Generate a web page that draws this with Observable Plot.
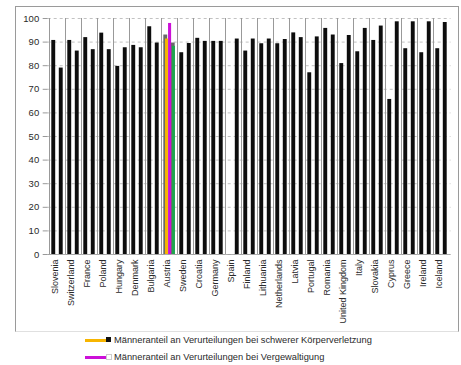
<!DOCTYPE html>
<html>
<head>
<meta charset="utf-8">
<script src="https://cdn.jsdelivr.net/npm/d3@7"></script>
<script src="https://cdn.jsdelivr.net/npm/@observablehq/plot@0.6"></script>
<style>
  html, body { margin: 0; padding: 0; background: #fff; }
  #wrap { position: relative; width: 461px; height: 365px; overflow: hidden; font-family: "Liberation Sans", Arial, sans-serif; }
  #frame { position: absolute; left: 15px; top: 6px; width: 442px; height: 324px; border: 1px solid #9a9a9a; border-bottom-color: #e0e0e0; pointer-events: none; }
  #chart { position: absolute; left: 0; top: 0; }
  .leg { position: absolute; left: 85px; height: 12px; font-size: 9.3px; color: #2a2a2a; white-space: nowrap; }
  .leg .line { position: absolute; left: 0; top: 5px; width: 21px; height: 3px; }
  .leg .sq { position: absolute; left: 21px; top: 3px; width: 5px; height: 5px; }
  .leg .txt { position: absolute; left: 29px; top: 0; line-height: 12px; }
</style>
</head>
<body>
<div id="wrap">
  <div id="chart"></div>
  <div id="frame"></div>
  <div id="legend"></div>
</div>
<script>
const countries = ["Slovenia","Switzerland","France","Poland","Hungary","Denmark","Bulgaria","Austria","Sweden","Croatia","Germany","Spain","Finland","Lithuania","Netherlands","Latvia","Portugal","Romania","United Kingdom","Italy","Slovakia","Cyprus","Greece","Ireland","Iceland"];
const koerperverletzung = [90.7, 90.7, 91.9, 93.8, 79.7, 88.6, 96.5, 93.0, 85.5, 91.6, 90.3, null, 86.2, 89.3, 89.3, 93.9, 77.0, 95.8, 80.9, 85.9, 90.7, 65.7, 87.2, 85.5, 87.2];
const vergewaltigung = [79.0, 86.2, 86.8, 86.8, 87.6, 87.6, 89.6, 89.6, 89.4, 90.3, 90.3, 91.3, 91.3, 91.3, 91.1, 91.9, 92.2, 93.0, 92.8, 95.8, 96.8, 98.6, 98.6, 98.6, 98.3];
const yTicks = [0, 10, 20, 30, 40, 50, 60, 70, 80, 90, 100];
const seriesNames = ["Männeranteil an Verurteilungen bei schwerer Körperverletzung", "Männeranteil an Verurteilungen bei Vergewaltigung"];
// hand-drawn highlight marks over Austria in the scan
const highlightCountry = "Austria";
const highlightYellow = 91.3;
const highlightMagenta = 97.9;
const highlightGreen = 88.2;
const markerColors = ["#f7b500", "#cc10d8", "#1ea64f"];

const rows1 = countries.map((c, i) => ({country: c, value: koerperverletzung[i]})).filter(d => d.value != null);
const rows2 = countries.map((c, i) => ({country: c, value: vergewaltigung[i]})).filter(d => d.value != null);
const barFill = d => d.country === highlightCountry ? "#6a6a6a" : "#0d0d0d";

const chart = Plot.plot({
  width: 461,
  height: 332,
  marginTop: 18,
  marginBottom: 78,
  marginLeft: 47.7,
  marginRight: 10.5,
  style: {fontFamily: "Liberation Sans, Arial, sans-serif", background: "transparent"},
  x: {domain: countries, padding: 0, label: null},
  y: {domain: [0, 100], label: null},
  marks: [
    Plot.gridY(yTicks, {stroke: "#9a9a9a", strokeOpacity: 0.6, strokeDasharray: "3,3"}),
    Plot.axisY(yTicks, {tickSize: 5, tickPadding: 4, fontSize: 9.5, fill: "#2a2a2a", stroke: "#999", label: null}),
    Plot.axisX({tickSize: 0, tickPadding: 5, tickRotate: -90, fontSize: 9, fill: "#2a2a2a", dx: -2, label: null}),
    Plot.ruleY([0], {stroke: "#999", strokeWidth: 0.8}),
    Plot.tickX(countries, {x: d => d, y1: 0, y2: -1.3, stroke: "#999", dx: -8}),
    Plot.barY(rows1, {x: "country", y: "value", fill: barFill, insetLeft: 2.3, insetRight: 9.8}),
    Plot.barY(rows2, {x: "country", y: "value", fill: barFill, insetLeft: 9.8, insetRight: 2.3}),
    Plot.barY([{country: highlightCountry, value: highlightYellow}], {x: "country", y: "value", fill: markerColors[0], insetLeft: 4.05, insetRight: 9.05}),
    Plot.barY([{country: highlightCountry, value: highlightMagenta}], {x: "country", y: "value", fill: markerColors[1], insetLeft: 7.05, insetRight: 5.9}),
    Plot.barY([{country: highlightCountry, value: highlightGreen}], {x: "country", y: "value", fill: markerColors[2], insetLeft: 11.05, insetRight: 2.05})
  ]
});
document.getElementById("chart").appendChild(chart);

const legend = document.getElementById("legend");
const legTops = [334, 351];
const sqStyles = ["background:#111;", "background:#fff;border:0.5px solid #ccc;width:4px;height:4px;"];
seriesNames.forEach((name, i) => {
  const row = document.createElement("div");
  row.className = "leg";
  row.style.top = legTops[i] + "px";
  row.innerHTML = `<span class="line" style="background:${markerColors[i]}"></span><span class="sq" style="${sqStyles[i]}"></span><span class="txt">${name}</span>`;
  legend.appendChild(row);
});
</script>
</body>
</html>
